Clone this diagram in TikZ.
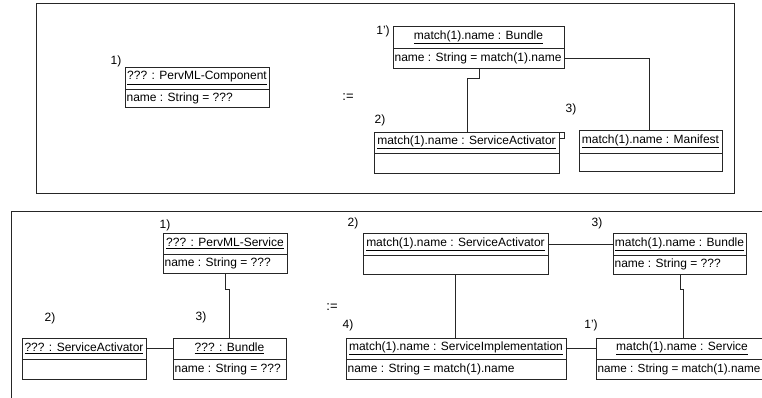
\documentclass[tikz,border=0pt]{standalone}
\usepackage{fontspec}
\setmainfont{Liberation Sans}
\begin{document}
\begin{tikzpicture}[x=1pt,y=-1pt,
  line width=0.8pt,
  hdr/.style={draw=black!85, rectangle, inner sep=0pt, outer sep=0pt, anchor=north west, font=\fontsize{12}{14}\selectfont},
  att/.style={draw=black!85, rectangle, inner sep=0pt, outer sep=0pt, anchor=north west},
  atxt/.style={anchor=west, inner sep=1.2pt, font=\fontsize{12}{14}\selectfont},
  lbl/.style={inner sep=0pt, font=\fontsize{12}{14}\selectfont},
  conn/.style={draw=black!85, line width=0.8pt},
  frame/.style={draw=black!85, line width=0.8pt}]
\clip (0,0) rectangle (762,398);
\fill[white] (0,0) rectangle (762,398);
% name, x, ytop, width, header h, attr h, header, attr
\newcommand\umlobj[8]{%
  \node[hdr, minimum width=#4pt, minimum height=#5pt] (#1) at (#2,#3) {\underline{#7}};
  \node[att, minimum width=#4pt, minimum height=#6pt] (#1-a) at (#1.south west) {};
  \node[atxt] (#1-t) at (#1-a.west) {#8};
}
% frames
\draw[frame] (36,3) rectangle (734,193);
\draw[frame] (11,400) -- (11,211) -- (770,211);

% ---- top diagram ----
\umlobj{tc}{125}{67}{144}{22}{18}{??? : PervML-Component}{name : String = ???}
\umlobj{tb}{393}{26}{171}{22}{20}{match(1).name : Bundle}{name : String = match(1).name}
\umlobj{tact}{374}{132}{185}{21}{20}{match(1).name : ServiceActivator}{}
\umlobj{tm}{579}{130}{143}{23}{18}{match(1).name : Manifest}{}

\node[lbl] (l1) at (116,61) {1)};
\node[lbl] (l1p) at (383,31) {1')};
\node[lbl] (l2) at (380,120) {2)};
\node[lbl] (l3) at (571,109) {3)};
\node[lbl, font=\fontsize{13}{15}\selectfont] (def1) at (348,97) {:=};

\draw[conn] (479,0 |- tb-a.south) -- (479,78) -- (467,78) -- (467,0 |- tact.north);
\draw[conn] (tb-a.east) -| (tm.north -| 649,0);
\draw[conn] (tact.north east) -- ++(5,0) -- ++(0,6) -- ++(-5,0);

% ---- bottom diagram ----
\umlobj{bserv}{163}{233}{124}{21}{19}{??? : PervML-Service}{name : String = ???}
\umlobj{bact}{22}{338}{124}{21}{20}{??? : ServiceActivator}{}
\umlobj{bbun}{173}{338}{113}{21}{20}{??? : Bundle}{name : String = ???}
\umlobj{ract}{363}{233}{185}{22}{19}{match(1).name : ServiceActivator}{}
\umlobj{rbun}{613}{233}{133}{22}{19}{match(1).name : Bundle}{name : String = ???}
\umlobj{rimpl}{346}{338}{220}{21}{20}{match(1).name : ServiceImplementation}{name : String = match(1).name}
\umlobj{rserv}{596}{338}{172}{21}{20}{match(1).name : Service}{\fontsize{11.7}{14}\selectfont name : String = match(1).name}

\node[lbl] (m1) at (165,225) {1)};
\node[lbl] (m2) at (50,318) {2)};
\node[lbl] (m3) at (201,317) {3)};
\node[lbl, font=\fontsize{13}{15}\selectfont] (def2) at (332,307) {:=};
\node[lbl] (r2) at (353,223) {2)};
\node[lbl] (r3) at (597,223) {3)};
\node[lbl] (r4) at (348,325) {4)};
\node[lbl] (r1p) at (591,325) {1')};

\draw[conn] (225,0 |- bserv-a.south) -- (225,289) -- (229,289) -- (229,0 |- bbun.north);
\draw[conn] (bact.east) -- (162,0 |- bact.east) -- (bbun.west);
\draw[conn] (ract.east) -- (rbun.west);
\draw[conn] (455,0 |- ract-a.south) -- (455,0 |- rimpl.north);
\draw[conn] (rimpl.east) -- (rserv.west);
\draw[conn] (680,0 |- rbun-a.south) -- (680,289) -- (683,289) -- (683,0 |- rserv.north);
\end{tikzpicture}
\end{document}
